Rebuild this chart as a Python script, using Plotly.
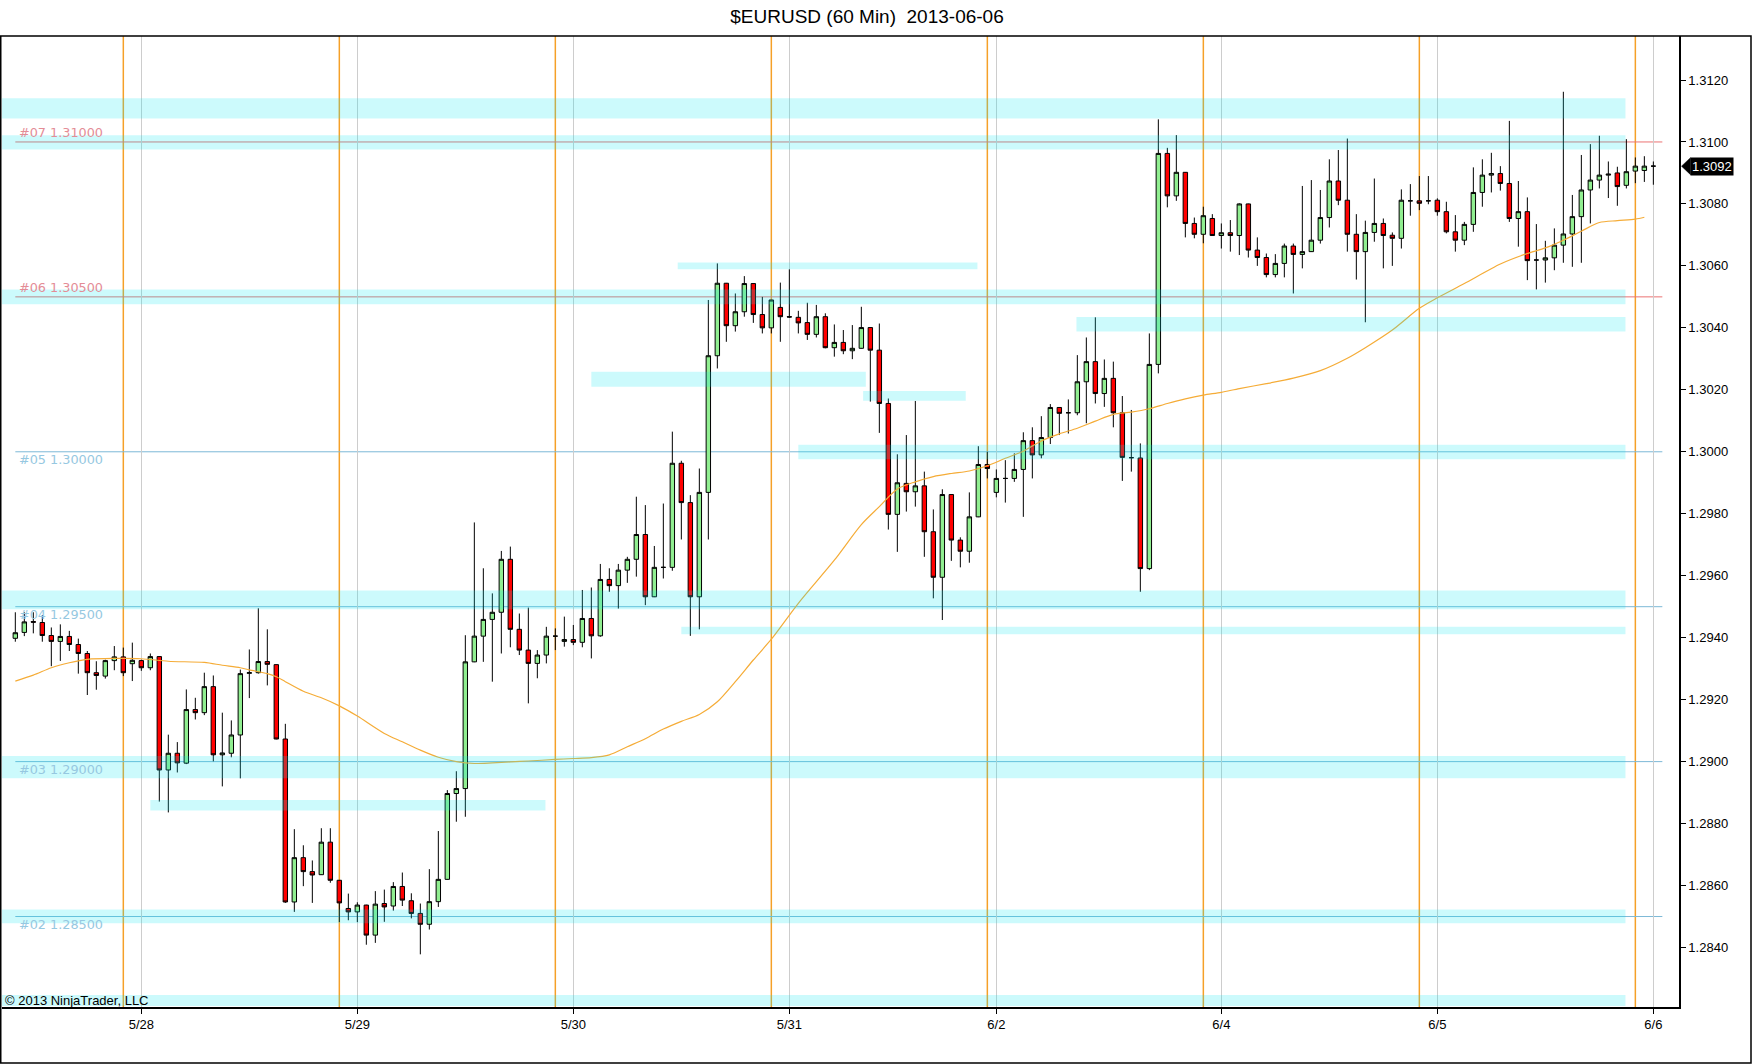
import plotly.graph_objects as go

# ---------------- data (hourly bars, index 0..182) ----------------
opens = [1.29398,1.29417,1.29452,1.29449,1.29407,1.29388,1.29404,1.29378,1.29349,1.29287,
         1.29276,1.29326,1.29338,1.29316,1.29326,1.29303,1.29339,1.28973,1.29027,1.28995,
         1.29168,1.29158,1.29242,1.29022,1.29027,1.29086,1.29285,1.29287,1.29323,1.29313,
         1.29073,1.28547,1.28690,1.28645,1.28635,1.28740,1.28617,1.28526,1.28515,1.28537,
         1.28440,1.28542,1.28534,1.28597,1.28551,1.28510,1.28475,1.28548,1.28620,1.28897,
         1.28913,1.29322,1.29405,1.29459,1.29482,1.29653,1.29427,1.29360,1.29317,1.29344,
         1.29405,1.29388,1.29394,1.29385,1.29462,1.29406,1.29588,1.29568,1.29618,1.29653,
         1.29733,1.29532,1.29627,1.29627,1.29963,1.29836,1.29532,1.29869,1.30310,1.30544,
         1.30407,1.30452,1.30543,1.30443,1.30400,1.30466,1.30436,1.30434,1.30417,1.30379,
         1.30436,1.30336,1.30353,1.30326,1.30334,1.30401,1.30328,1.30156,1.29798,1.29898,
         1.29871,1.29890,1.29742,1.29595,1.29862,1.29715,1.29679,1.29790,1.29959,1.29869,
         1.29914,1.29914,1.29943,1.30036,1.29990,1.30046,1.30143,1.30126,1.30126,1.30226,
         1.30291,1.30188,1.30237,1.30126,1.29981,1.29980,1.29623,1.30282,1.30963,1.30826,
         1.30902,1.30737,1.30702,1.30753,1.30698,1.30707,1.30698,1.30800,1.30651,1.30627,
         1.30572,1.30608,1.30664,1.30637,1.30646,1.30683,1.30756,1.30874,1.30812,1.30702,
         1.30646,1.30708,1.30737,1.30699,1.30689,1.30810,1.30810,1.30810,1.30812,1.30775,
         1.30710,1.30683,1.30734,1.30837,1.30893,1.30898,1.30866,1.30753,1.30775,1.30619,
         1.30619,1.30626,1.30667,1.30703,1.30759,1.30845,1.30877,1.30893,1.30900,1.30860,
         1.30906,1.30908,1.30922]
highs = [1.29482,1.29482,1.29482,1.29473,1.29433,1.29443,1.29422,1.29397,1.29357,1.29324,
         1.29329,1.29373,1.29368,1.29384,1.29329,1.29349,1.29340,1.29087,1.29063,1.29233,
         1.29206,1.29287,1.29278,1.29158,1.29133,1.29297,1.29362,1.29495,1.29427,1.29314,
         1.29122,1.28782,1.28730,1.28681,1.28785,1.28785,1.28618,1.28574,1.28546,1.28538,
         1.28582,1.28587,1.28611,1.28642,1.28575,1.28542,1.28653,1.28776,1.28908,1.28969,
         1.29408,1.29772,1.29624,1.29543,1.29680,1.29694,1.29478,1.29497,1.29360,1.29435,
         1.29430,1.29468,1.29441,1.29554,1.29562,1.29638,1.29624,1.29638,1.29661,1.29855,
         1.29828,1.29696,1.29833,1.30065,1.29971,1.29860,1.29946,1.30490,1.30608,1.30545,
         1.30511,1.30567,1.30544,1.30500,1.30490,1.30546,1.30589,1.30455,1.30481,1.30474,
         1.30447,1.30411,1.30393,1.30409,1.30468,1.30402,1.30414,1.30172,1.29992,1.30054,
         1.30164,1.29936,1.29814,1.29879,1.29863,1.29724,1.29869,1.30018,1.30000,1.29943,
         1.29973,1.29995,1.30063,1.30079,1.30115,1.30154,1.30144,1.30169,1.30312,1.30369,
         1.30434,1.30298,1.30291,1.30180,1.30135,1.30027,1.30382,1.31073,1.30981,1.31022,
         1.30903,1.30756,1.30791,1.30767,1.30737,1.30748,1.30802,1.30801,1.30692,1.30640,
         1.30638,1.30672,1.30672,1.30858,1.30877,1.30845,1.30944,1.30974,1.31011,1.30767,
         1.30746,1.30882,1.30753,1.30708,1.30847,1.30864,1.30890,1.30890,1.30818,1.30807,
         1.30764,1.30742,1.30918,1.30944,1.30965,1.30922,1.31068,1.30874,1.30821,1.30735,
         1.30681,1.30721,1.31162,1.30829,1.30958,1.30993,1.31020,1.30937,1.30920,1.31009,
         1.30950,1.30954,1.30937]
lows = [1.29387,1.29405,1.29414,1.29387,1.29308,1.29325,1.29357,1.29284,1.29215,1.29232,
        1.29268,1.29295,1.29276,1.29260,1.29293,1.29295,1.28871,1.28836,1.28965,1.28992,
        1.29136,1.29150,1.29001,1.28920,1.29014,1.28946,1.29205,1.29284,1.29246,1.29072,
        1.28544,1.28515,1.28598,1.28544,1.28634,1.28609,1.28482,1.28488,1.28482,1.28409,
        1.28415,1.28483,1.28519,1.28534,1.28494,1.28378,1.28458,1.28531,1.28619,1.28806,
        1.28822,1.29321,1.29322,1.29258,1.29349,1.29369,1.29344,1.29188,1.29269,1.29317,
        1.29360,1.29371,1.29376,1.29369,1.29333,1.29403,1.29548,1.29494,1.29577,1.29597,
        1.29505,1.29531,1.29591,1.29616,1.29717,1.29406,1.29427,1.29717,1.30269,1.30355,
        1.30388,1.30436,1.30416,1.30382,1.30382,1.30355,1.30432,1.30382,1.30361,1.30369,
        1.30334,1.30307,1.30315,1.30299,1.30333,1.30162,1.30061,1.29749,1.29677,1.29807,
        1.29823,1.29661,1.29527,1.29457,1.29648,1.29627,1.29642,1.29789,1.29914,1.29853,
        1.29836,1.29903,1.29790,1.29914,1.29979,1.30025,1.30054,1.30059,1.30118,1.30092,
        1.30156,1.30145,1.30079,1.29906,1.29936,1.29548,1.29618,1.30253,1.30789,1.30810,
        1.30692,1.30689,1.30673,1.30698,1.30656,1.30646,1.30635,1.30627,1.30600,1.30563,
        1.30563,1.30563,1.30511,1.30592,1.30645,1.30672,1.30724,1.30796,1.30646,1.30556,
        1.30418,1.30678,1.30592,1.30600,1.30656,1.30762,1.30780,1.30799,1.30762,1.30705,
        1.30646,1.30667,1.30710,1.30791,1.30837,1.30843,1.30742,1.30662,1.30554,1.30524,
        1.30546,1.30586,1.30610,1.30597,1.30610,1.30737,1.30850,1.30819,1.30794,1.30850,
        1.30867,1.30871,1.30862]
closes = [1.29416,1.29451,1.29450,1.29407,1.29388,1.29404,1.29378,1.29349,1.29287,1.29278,
          1.29326,1.29338,1.29287,1.29327,1.29303,1.29339,1.28973,1.29027,1.28996,1.29168,
          1.29158,1.29242,1.29022,1.29028,1.29086,1.29284,1.29287,1.29323,1.29314,1.29073,
          1.28547,1.28690,1.28645,1.28634,1.28740,1.28617,1.28544,1.28515,1.28537,1.28440,
          1.28540,1.28531,1.28597,1.28553,1.28510,1.28475,1.28548,1.28620,1.28897,1.28913,
          1.29322,1.29405,1.29459,1.29482,1.29653,1.29427,1.29360,1.29317,1.29344,1.29405,
          1.29405,1.29394,1.29385,1.29462,1.29406,1.29588,1.29568,1.29618,1.29653,1.29733,
          1.29532,1.29627,1.29627,1.29963,1.29836,1.29532,1.29869,1.30310,1.30544,1.30407,
          1.30452,1.30543,1.30443,1.30400,1.30490,1.30436,1.30435,1.30416,1.30379,1.30436,
          1.30336,1.30353,1.30326,1.30334,1.30401,1.30328,1.30156,1.29798,1.29900,1.29871,
          1.29890,1.29742,1.29595,1.29862,1.29715,1.29679,1.29790,1.29959,1.29946,1.29914,
          1.29914,1.29943,1.30036,1.29990,1.30046,1.30143,1.30124,1.30126,1.30226,1.30291,
          1.30188,1.30237,1.30126,1.29982,1.29981,1.29623,1.30282,1.30963,1.30826,1.30902,
          1.30737,1.30702,1.30762,1.30698,1.30707,1.30698,1.30800,1.30651,1.30627,1.30572,
          1.30608,1.30664,1.30637,1.30646,1.30683,1.30756,1.30874,1.30812,1.30702,1.30646,
          1.30708,1.30737,1.30698,1.30689,1.30812,1.30810,1.30802,1.30810,1.30775,1.30710,
          1.30683,1.30734,1.30837,1.30893,1.30898,1.30866,1.30753,1.30775,1.30617,1.30619,
          1.30626,1.30667,1.30703,1.30759,1.30845,1.30877,1.30893,1.30896,1.30856,1.30904,
          1.30922,1.30922,1.30922]
bar_index = list(range(len(opens)))

# moving average read at sample bars
ma_idx = [0,2,4,6,8,11,14,17,21,23,25,26,28,29,30,32,34,36,38,41,43,45,47,49,51,53,55,57,60,
          62,64,66,68,70,72,74,76,78,80,82,84,87,91,94,96,98,100,102,104,106,108,110,112,114,
          116,118,120,122,124,126,128,130,132,134,136,139,142,145,148,150,153,156,158,161,165,
          168,170,172,174,176,178,180,181]
ma_val = [1.29260,1.29279,1.29303,1.29319,1.29330,1.29333,1.29332,1.29324,1.29320,1.29311,
          1.29303,1.29296,1.29284,1.29274,1.29258,1.29227,1.29206,1.29180,1.29147,1.29091,
          1.29064,1.29037,1.29014,1.29000,1.28994,1.28996,1.28999,1.29002,1.29007,1.29010,
          1.29013,1.29022,1.29048,1.29074,1.29105,1.29130,1.29152,1.29193,1.29258,1.29328,
          1.29395,1.29511,1.29650,1.29765,1.29823,1.29880,1.29903,1.29920,1.29930,1.29938,
          1.29955,1.29979,1.30002,1.30035,1.30058,1.30076,1.30099,1.30121,1.30128,1.30139,
          1.30156,1.30171,1.30183,1.30192,1.30204,1.30220,1.30238,1.30262,1.30302,1.30336,
          1.30393,1.30463,1.30497,1.30543,1.30606,1.30640,1.30658,1.30683,1.30712,1.30740,
          1.30746,1.30751,1.30757]

day_tick_idx = [14, 38, 62, 86, 109, 134, 158, 182]
day_tick_lbl = ["5/28", "5/29", "5/30", "5/31", "6/2", "6/4", "6/5", "6/6"]
session_idx = [12, 36, 60, 84, 108, 132, 156, 180]

level_prices = [1.31000, 1.30500, 1.30000, 1.29500, 1.29000, 1.28500]
level_names = ["#07", "#06", "#05", "#04", "#03", "#02"]
level_is_resistance = [True, True, False, False, False, False]

zone_start = [-1.5, -1.5, -1.5, 117.9, 73.6, 64.0, 94.2, 87.0, -1.5, 74.0, -1.5, 15.0, -1.5, -1.5]
zone_end   = [178.9, 178.9, 178.9, 178.9, 106.9, 94.5, 105.6, 178.9, 178.9, 178.9, 178.9, 58.9, 178.9, 178.9]
zone_low   = [1.31076, 1.30976, 1.30476, 1.30388, 1.30589, 1.30210, 1.30165, 1.29976, 1.29492,
              1.29411, 1.28946, 1.28842, 1.28478, 1.28211]
zone_high  = [1.31141, 1.31022, 1.30524, 1.30435, 1.30611, 1.30258, 1.30196, 1.30023, 1.29552,
              1.29435, 1.29018, 1.28876, 1.28523, 1.28247]

last_price = 1.30922
last_label = "1.3092"

# ---------------- figure ----------------
W, H = 1752, 1064
L_M, R_M, T_M, B_M = 2, 73, 36, 57
X_RANGE = [-1.48, 184.85]
Y_RANGE = [1.28208, 1.31342]
plot_w = W - L_M - R_M
plot_h = H - T_M - B_M

def px_to_paper_x(px):
    return (px - L_M) / plot_w

fig = go.Figure()

fig.add_trace(go.Candlestick(
    x=bar_index, open=opens, high=highs, low=lows, close=closes,
    increasing=dict(fillcolor="rgb(144,238,144)", line=dict(color="black", width=1)),
    decreasing=dict(fillcolor="rgb(255,0,0)", line=dict(color="black", width=1)),
    whiskerwidth=0, showlegend=False, hoverinfo="skip"))

fig.add_trace(go.Scatter(
    x=ma_idx, y=ma_val, mode="lines",
    line=dict(color="rgb(245,172,55)", width=1.2, shape="spline", smoothing=0.8),
    showlegend=False, hoverinfo="skip"))

shapes = []
for s in session_idx:
    shapes.append(dict(type="line", xref="x", yref="paper", x0=s, x1=s, y0=0, y1=1,
                       line=dict(color="rgb(245,160,40)", width=1.5), layer="below"))
for p, res in zip(level_prices, level_is_resistance):
    col = "rgb(235,115,115)" if res else "rgb(125,185,215)"
    shapes.append(dict(type="line", xref="x", yref="y", x0=0, x1=183, y0=p, y1=p,
                       line=dict(color=col, width=1), layer="below"))
for a, b, lo, hi in zip(zone_start, zone_end, zone_low, zone_high):
    shapes.append(dict(type="rect", xref="x", yref="y", x0=a, x1=b, y0=lo, y1=hi,
                       fillcolor="rgba(0,228,240,0.2)", line=dict(width=0), layer="above"))
dy = 8.5 * (Y_RANGE[1] - Y_RANGE[0]) / plot_h
xa, xb = px_to_paper_x(1681.5), px_to_paper_x(1690.5)
shapes.append(dict(type="path", xref="paper", yref="y",
                   path=f"M {xa},{last_price} L {xb},{last_price+dy} L {xb},{last_price-dy} Z",
                   fillcolor="black", line=dict(color="black", width=0.5), layer="above"))
shapes.append(dict(type="rect", xref="paper", yref="paper",
                   x0=px_to_paper_x(0.75), x1=px_to_paper_x(1751), y0=(T_M + plot_h - 1063) / plot_h, y1=1,
                   line=dict(color="black", width=1.5), fillcolor="rgba(0,0,0,0)", layer="above"))

annotations = []
for p, n, res in zip(level_prices, level_names, level_is_resistance):
    annotations.append(dict(
        x=0.2, y=p, xref="x", yref="y", text=f"{n} {p:.5f}", showarrow=False,
        xanchor="left", yanchor="middle", yshift=9 if res else -8,
        font=dict(family="DejaVu Sans, Verdana", size=12.8,
                  color="rgb(228,140,150)" if res else "rgb(150,200,225)")))
annotations.append(dict(
    x=px_to_paper_x(1690), y=last_price, xref="paper", yref="y", text=last_label,
    showarrow=False, xanchor="left", yanchor="middle", bgcolor="black", borderpad=1,
    font=dict(family="Liberation Sans, Arial", size=13, color="white")))
annotations.append(dict(
    x=px_to_paper_x(3), y=(T_M + plot_h - 1000) / plot_h, xref="paper", yref="paper",
    text="© 2013 NinjaTrader, LLC", showarrow=False, xanchor="left", yanchor="middle",
    font=dict(family="Liberation Sans, Arial", size=13, color="black")))

fig.update_layout(
    width=W, height=H,
    margin=dict(l=L_M, r=R_M, t=T_M, b=B_M, autoexpand=False),
    paper_bgcolor="white", plot_bgcolor="white",
    title=dict(text="$EURUSD (60 Min)\u00a0 2013-06-06", x=867 / W, xref="container",
               xanchor="center", y=1 - 16 / H, yref="container", yanchor="middle",
               font=dict(family="Liberation Sans, Arial", size=19, color="black")),
    shapes=shapes, annotations=annotations, showlegend=False,
    xaxis=dict(range=X_RANGE, tickmode="array", tickvals=day_tick_idx, ticktext=day_tick_lbl,
               showgrid=True, gridcolor="rgb(205,205,205)", gridwidth=1, zeroline=False,
               showline=True, linecolor="black", linewidth=1.5,
               ticks="outside", ticklen=5, tickcolor="black",
               tickfont=dict(family="Liberation Sans, Arial", size=13, color="black"),
               rangeslider=dict(visible=False), fixedrange=True),
    yaxis=dict(range=Y_RANGE, side="right", tickmode="linear", tick0=1.284, dtick=0.002,
               tickformat=".4f", showgrid=False, zeroline=False,
               showline=True, linecolor="black", linewidth=1.5,
               ticks="outside", ticklen=5, tickcolor="black",
               tickfont=dict(family="Liberation Sans, Arial", size=13, color="black"),
               fixedrange=True),
)

fig.write_html("out.html", config={"displayModeBar": False},
               post_script="document.body.style.margin='0px';")
